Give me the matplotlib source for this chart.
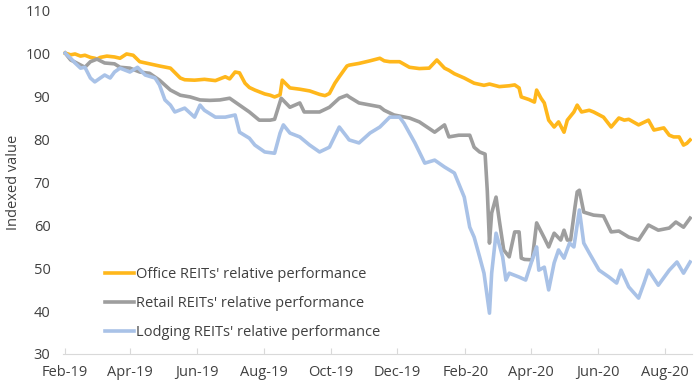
import matplotlib

matplotlib.use("Agg")
import matplotlib.dates as mdates
import matplotlib.pyplot as plt
import pandas as pd

START = pd.Timestamp("2019-02-01")

# Days since 1 Feb 2019 and indexed value
OFFICE_DAYS = [0, 5, 9, 14, 18, 23, 27, 29, 32, 38, 45, 50, 56, 62, 68, 77, 86, 96, 105, 109,
               118, 127, 137, 146, 150, 155, 159, 164, 168, 173, 182, 187, 191, 196, 198, 205,
               214, 223, 232, 237, 241, 246, 250, 257, 259, 268, 278, 287, 291, 296, 305, 314,
               323, 332, 339, 346, 350, 355, 364, 373, 382, 387, 396, 405, 410, 414, 416, 423,
               428, 430, 434, 437, 441, 446, 450, 455, 458, 464, 467, 471, 478, 482, 491, 498,
               505, 510, 514, 523, 532, 537, 546, 551, 555, 560, 564, 567, 570]
OFFICE_VALUES = [100, 99.6, 99.8, 99.3, 99.5, 99, 98.8, 98.6, 99, 99.3, 99.1, 98.8, 99.8, 99.5,
                 98, 97.5, 97, 96.5, 94.2, 93.8, 93.7, 93.9, 93.6, 94.5, 94, 95.6, 95.4, 93, 92,
                 91.4, 90.5, 90.2, 89.8, 90.3, 93.7, 91.9, 91.6, 91.2, 90.4, 90.1, 90.6, 93, 94.5,
                 97, 97.2, 97.6, 98.2, 98.8, 98.2, 98, 98, 96.7, 96.4, 96.5, 98.4, 96.5, 96, 95.2,
                 94.2, 93, 92.5, 92.8, 92.2, 92.4, 92.6, 91.9, 89.8, 89.2, 88.6, 91.4, 89.5, 88.4,
                 84.4, 82.8, 84, 81.6, 84.4, 86.3, 87.9, 86.3, 86.7, 86.3, 85.1, 82.8, 84.9, 84.4,
                 84.6, 83.3, 84.4, 82.1, 82.6, 80.9, 80.5, 80.5, 78.6, 79, 79.8]

RETAIL_DAYS = [0, 5, 9, 18, 23, 29, 36, 45, 50, 59, 68, 77, 86, 96, 105, 114, 123, 132, 141,
               150, 159, 168, 177, 187, 191, 197, 205, 214, 218, 232, 241, 250, 257, 259, 268,
               287, 291, 300, 314, 323, 337, 346, 350, 359, 369, 373, 378, 383, 385, 387, 389,
               393, 396, 400, 405, 410, 414, 416, 419, 426, 430, 437, 441, 446, 452, 455, 458,
               461, 465, 467, 469, 473, 482, 491, 498, 505, 514, 523, 532, 541, 551, 557, 564,
               570]
RETAIL_VALUES = [100, 98.4, 97.9, 96.7, 98, 98.6, 97.7, 97.5, 96.7, 96.5, 95.6, 95.3, 93.7,
                 91.4, 90.2, 89.8, 89.1, 89, 89.1, 89.5, 87.9, 86.3, 84.4, 84.4, 84.6, 89.5, 87.4,
                 88.4, 86.3, 86.3, 87.4, 89.5, 90.2, 89.8, 88.4, 87.5, 86.7, 85.6, 84.9, 84, 81.6,
                 83.3, 80.5, 80.9, 80.9, 78.1, 77, 76.5, 68, 55.8, 62.8, 66.5, 61, 54.2, 52.6,
                 58.4, 58.4, 52.3, 52, 51.9, 60.5, 57, 54.9, 58.1, 56.5, 58.8, 56.5, 56.5, 64.2,
                 67.7, 68.1, 63, 62.3, 62.1, 58.4, 58.6, 57.2, 56.5, 60, 58.8, 59.3, 60.7, 59.5,
                 61.6]

LODGING_DAYS = [0, 5, 9, 14, 18, 23, 27, 32, 36, 41, 45, 50, 59, 66, 73, 82, 86, 91, 96, 100,
                109, 118, 123, 127, 137, 146, 155, 159, 168, 173, 182, 191, 196, 199, 205, 214,
                223, 232, 241, 250, 257, 259, 268, 278, 287, 296, 305, 309, 319, 328, 337, 346,
                355, 364, 369, 373, 378, 382, 387, 389, 393, 399, 402, 405, 414, 420, 428, 430,
                432, 437, 441, 446, 450, 455, 460, 464, 469, 473, 478, 487, 496, 503, 507, 514,
                523, 528, 532, 541, 551, 558, 564, 570]
LODGING_VALUES = [100, 98.8, 97.7, 96.5, 96.7, 94.2, 93.3, 94.2, 94.9, 94.2, 95.6, 96.5, 95.6,
                  96.7, 94.9, 94.2, 92.6, 89.1, 87.9, 86.3, 87.2, 85.1, 87.9, 86.7, 85.1, 85.1,
                  85.6, 81.6, 80.2, 78.6, 77, 76.7, 81.4, 83.3, 81.4, 80.5, 78.6, 77, 78.1, 82.8,
                  80.5, 79.8, 79.1, 81.4, 82.8, 85.1, 85.1, 83.7, 79.1, 74.4, 75.1, 73.5, 72.1,
                  66.5, 59.5, 57.2, 52.6, 48.8, 39.5, 48.8, 58.1, 52.6, 47.2, 48.8, 47.9, 47.2,
                  53.5, 54.9, 49.5, 50.2, 44.9, 51.2, 54.2, 52.3, 55.8, 54.9, 63.5, 55.8, 53.5,
                  49.5, 47.9, 46.5, 49.5, 45.6, 43, 46.5, 49.5, 46, 49.5, 51.4, 48.8, 51.4]

SERIES = [
    ("Office REITs' relative performance", OFFICE_DAYS, OFFICE_VALUES, "#FFB71B"),
    ("Retail REITs' relative performance", RETAIL_DAYS, RETAIL_VALUES, "#9E9E9E"),
    ("Lodging REITs' relative performance", LODGING_DAYS, LODGING_VALUES, "#A9C2E7"),
]

TEXT = "#404040"
plt.rcParams["font.family"] = ["Open Sans", "DejaVu Sans"]

fig = plt.figure(figsize=(7, 3.89), dpi=100)
ax = fig.add_axes([0.09, 0.09, 0.899, 0.884])

for label, days, values, color in SERIES:
    dates = START + pd.to_timedelta(days, unit="D")
    ax.plot(dates, values, color=color, lw=2.6, label=label, solid_joinstyle="round")

ax.set_ylim(30, 110)
ax.set_yticks(range(30, 111, 10))
ax.set_xlim(pd.Timestamp("2019-01-30"), pd.Timestamp("2020-08-26"))
ax.xaxis.set_major_locator(mdates.MonthLocator(bymonth=[2, 4, 6, 8, 10, 12]))
ax.xaxis.set_major_formatter(mdates.DateFormatter("%b-%y"))

for side in ("top", "right", "left"):
    ax.spines[side].set_visible(False)
ax.spines["bottom"].set_color("#D9D9D9")
ax.tick_params(axis="x", direction="in", length=4, color="#D9D9D9", labelsize=10.5,
               labelcolor=TEXT, pad=8)
ax.tick_params(axis="y", length=0, labelsize=10.5, labelcolor=TEXT, pad=9)
ax.set_ylabel("Indexed value", fontsize=10.5, color=TEXT, labelpad=3)

ax.legend(loc="upper left", bbox_to_anchor=(0.067, 0.252), frameon=False, fontsize=10.5,
          handlelength=2.0, handletextpad=0.1, labelspacing=0.95, borderpad=0,
          borderaxespad=0, labelcolor=TEXT)

fig.savefig("out.png", dpi=100)
